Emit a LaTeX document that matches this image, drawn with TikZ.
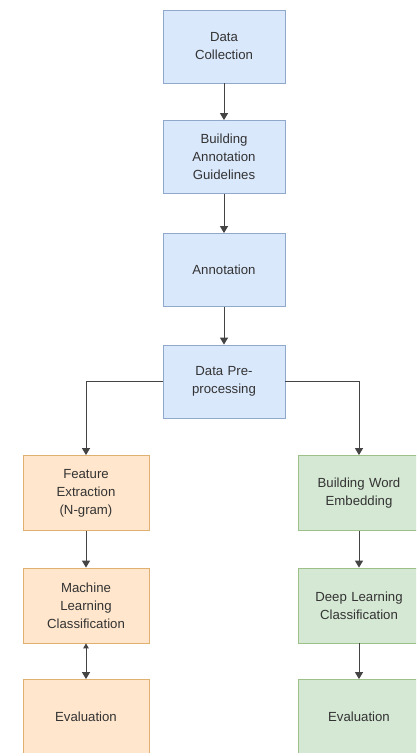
\documentclass[tikz,border=0pt]{standalone}
\usepackage{fontspec}
\setmainfont{Liberation Sans}
\usetikzlibrary{arrows.meta}
\definecolor{bfill}{HTML}{DAE8FC}
\definecolor{bdraw}{HTML}{8FA8CC}
\definecolor{ofill}{HTML}{FFE6CC}
\definecolor{odraw}{HTML}{E0B070}
\definecolor{gfill}{HTML}{D5E8D4}
\definecolor{gdraw}{HTML}{9CC088}
\definecolor{txt}{HTML}{333333}
\definecolor{ln}{HTML}{444444}
\tikzset{
  box/.style={draw, line width=0.8pt, rectangle, align=center, inner sep=2pt,
    font=\fontsize{13.2}{18}\selectfont, text=txt},
  bluebox/.style={box, fill=bfill, draw=bdraw, minimum width=122pt, minimum height=73pt, text width=116pt},
  orabox/.style={box, fill=ofill, draw=odraw, minimum width=126pt, minimum height=75pt, text width=120pt},
  grnbox/.style={box, fill=gfill, draw=gdraw, minimum width=122pt, minimum height=75pt, text width=118pt},
  conn/.style={draw=ln, line width=1pt, -{Triangle[width=8pt,length=7pt]}},
  conn2/.style={draw=ln, line width=1pt, {Triangle[width=5.5pt,length=5pt]}-{Triangle[width=8pt,length=7pt]}}
}
\begin{document}
\begin{tikzpicture}[x=1pt,y=-1pt]
\useasboundingbox (0,0) rectangle (416,753);
\begin{scope}
\clip (0,0) rectangle (416,753);
\node[bluebox] (b1) at (224,46.5) {Data\\Collection};
\node[bluebox] (b2) at (224,157) {Building\\Annotation\\Guidelines};
\node[bluebox] (b3) at (224,270) {Annotation};
\node[bluebox] (b4) at (224,381.5) {Data Pre-\\processing};
\node[orabox] (l1) at (86,493) {Feature\\Extraction\\(N-gram)};
\node[orabox] (l2) at (86,605.5) {Machine\\Learning\\Classification};
\node[orabox] (l3) at (86,717) {Evaluation};
\node[grnbox] (r1) at (359,493) {Building Word\\Embedding};
\node[grnbox] (r2) at (359,605.5) {Deep Learning\\Classification};
\node[grnbox] (r3) at (359,717) {Evaluation};
\end{scope}
\draw[conn] (b1) -- (b2);
\draw[conn] (b2) -- (b3);
\draw[conn] (b3) -- (b4);
\draw[conn] (b4.west) -| (l1.north);
\draw[conn] (b4.east) -| (r1.north);
\draw[conn] (l1) -- (l2);
\draw[conn2] (l2) -- (l3);
\draw[conn] (r1) -- (r2);
\draw[conn] (r2) -- (r3);
\end{tikzpicture}
\end{document}
